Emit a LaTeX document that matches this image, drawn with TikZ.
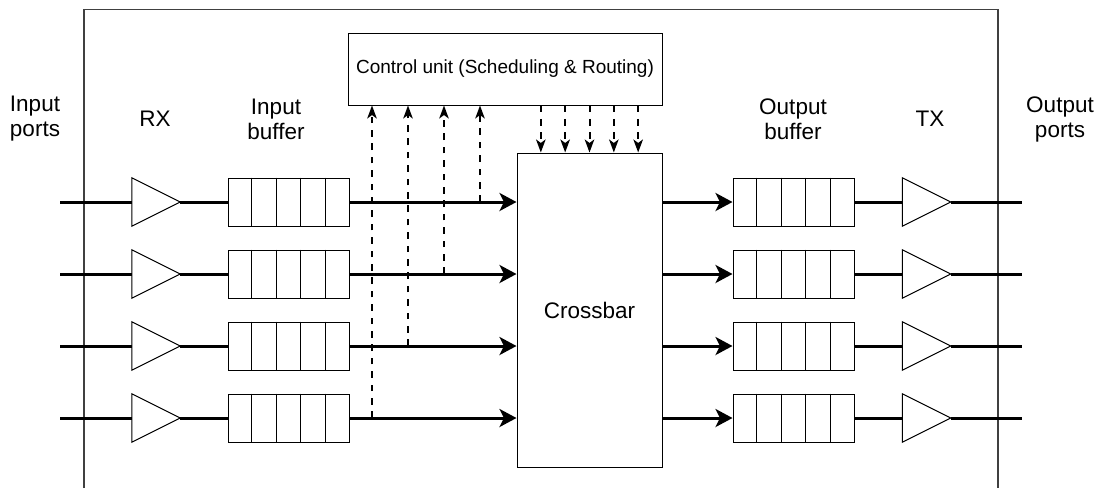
\documentclass[tikz,border=0pt]{standalone}
\usepackage{fontspec}
\setmainfont{Liberation Sans}
\usetikzlibrary{arrows.meta,calc}
\begin{document}
\begin{tikzpicture}[x=1pt,y=-1pt,
  lbl/.style={font=\fontsize{22.5}{25}\selectfont, align=center, inner sep=0pt},
  blk/.style={draw=black, line width=1pt, inner sep=0pt, fill=white},
  amp/.style={inner sep=0pt, minimum width=48pt, minimum height=48pt},
  bufbox/.style={blk, minimum width=121pt, minimum height=48pt},
  wire/.style={line width=3pt, line cap=butt},
  warrow/.style={wire, -{Stealth[length=17pt,width=18pt,inset=4.5pt]}},
  ctrl/.style={line width=2pt, dash pattern=on 6.7pt off 6.7pt, -{Stealth[length=13pt,width=9.5pt,inset=3.5pt]}},
  frame/.style={line width=1.2pt, draw=black!75}
]
\useasboundingbox (0,0) rectangle (1096,488);
% outer frame (bottom edge lies below the picture)
\draw[frame] (84,488) -- (84,9.5) -- (998,9.5) -- (998,488);

% labels
\node[lbl] (lin) at (35,119) {Input\\ports};
\node[lbl] (lrx) at (155,119) {RX};
\node[lbl] (lib) at (276,119) {Input\\buffer};
\node[lbl] (lob) at (793,119) {Output\\buffer};
\node[lbl] (ltx) at (930,119) {TX};
\node[lbl] (lout) at (1060,119) {Output\\ports};

% control unit and crossbar
\node[blk, minimum width=314pt, minimum height=72pt] (cu) at (505,69)
  {\fontsize{19}{22}\selectfont Control unit (Scheduling \& Routing)};
\node[blk, minimum width=145pt, minimum height=314pt] (xb) at (589.5,310)
  {\fontsize{22.5}{25}\selectfont Crossbar};

% rows
\foreach \i/\y in {1/202,2/274,3/346,4/418}{
  \coordinate (in\i) at (60,\y);
  \coordinate (out\i) at (1022,\y);
  \node[amp] (rx\i) at (156,\y) {};
  \node[amp] (tx\i) at (926.5,\y) {};
  \draw[line width=1pt] (rx\i.north west) -- (rx\i.east) -- (rx\i.south west) -- cycle;
  \draw[line width=1pt] (tx\i.north west) -- (tx\i.east) -- (tx\i.south west) -- cycle;
  \node[bufbox] (ib\i) at (288.5,\y) {};
  \node[bufbox] (ob\i) at (793.5,\y) {};
  \foreach \k in {1,2,3,4}{
    \draw[line width=1pt] ($(ib\i.north west)!\k/5!(ib\i.north east)$) -- ($(ib\i.south west)!\k/5!(ib\i.south east)$);
    \draw[line width=1pt] ($(ob\i.north west)!\k/5!(ob\i.north east)$) -- ($(ob\i.south west)!\k/5!(ob\i.south east)$);
  }
  \draw[wire] (in\i) -- (rx\i.west);
  \draw[wire] (rx\i.east) -- (ib\i.west);
  \draw[warrow] (ib\i.east) -- (ib\i.east -| xb.west);
  \draw[warrow] (ob\i.west -| xb.east) -- (ob\i.west);
  \draw[wire] (ob\i.east) -- (tx\i.west);
  \draw[wire] (tx\i.east) -- (out\i);
}

% status taps to control unit
\coordinate (u1) at (480,202);
\coordinate (u2) at (444,274);
\coordinate (u3) at (408,346);
\coordinate (u4) at (372,418);
\foreach \i in {1,2,3,4}{
  \draw[ctrl] (u\i) -- (u\i |- cu.south);
}

% control signals to crossbar
\foreach \k in {1,2,3,4,5}{
  \coordinate (d\k) at ($(xb.north west)!\k/6!(xb.north east)$);
  \draw[ctrl] (cu.south -| d\k) -- (d\k);
}
\end{tikzpicture}
\end{document}
